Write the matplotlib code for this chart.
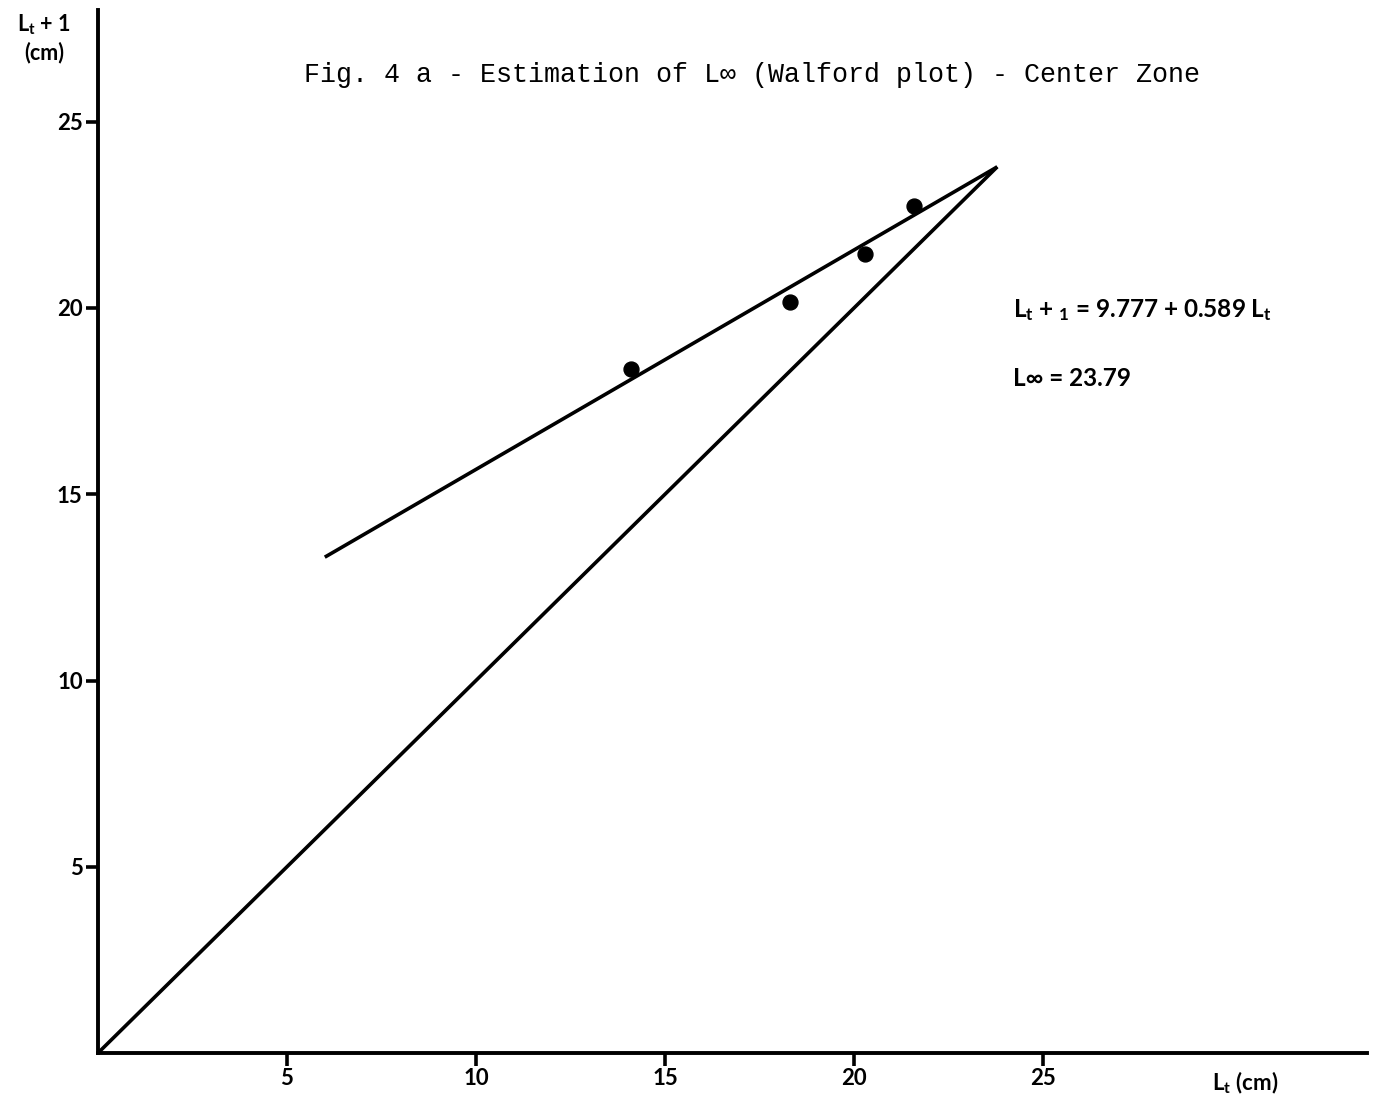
import matplotlib
matplotlib.use("Agg")
import matplotlib.pyplot as plt
import numpy as np

# Data
lt = [14.1, 18.3, 20.3, 21.6]
lt1 = [18.35, 20.15, 21.45, 22.75]
intercept = 9.777
slope = 0.589
linf = 23.79
fit_start = 6.0
xticks = [5, 10, 15, 20, 25]
yticks = [5, 10, 15, 20, 25]

plt.rcParams['mathtext.default'] = 'regular'
sans = ['Lato', 'DejaVu Sans']

fig = plt.figure(figsize=(13.79, 11.01), dpi=100)
ax = fig.add_axes([98/1379, 48/1101, (1367-98)/1379, (1053-10)/1101])
ax.set_xlim(0, (1367-98)/37.8)
ax.set_ylim(0, (1053-10)/37.25)

for s in ['top', 'right']:
    ax.spines[s].set_visible(False)
for s in ['left', 'bottom']:
    ax.spines[s].set_linewidth(2.8)
    ax.spines[s].set_color('black')

ax.set_xticks(xticks)
ax.set_yticks(yticks)
ax.tick_params(direction='out', length=9, width=2.6, labelsize=16, pad=2)
for lab in ax.get_xticklabels() + ax.get_yticklabels():
    lab.set_family(sans)
    lab.set_fontweight('bold')

# Diagonal (Lt+1 = Lt)
ax.plot([0, linf], [0, linf], color='black', lw=2.6, solid_capstyle='butt')
# Regression line
xf = np.array([fit_start, linf])
ax.plot(xf, intercept + slope * xf, color='black', lw=2.6, solid_capstyle='butt')
# Points
ax.scatter(lt, lt1, s=115, color='black', zorder=3)

# Title
fig.text(752/1379, 1 - 75/1101, "Fig. 4 a - Estimation of L\u221e (Walford plot) - Center Zone",
         family=['Liberation Mono', 'DejaVu Sans Mono'], fontsize=19.2, ha='center', va='center')

# Axis labels
fig.text(44/1379, 1 - 38/1101, "L$_t$ + 1\n(cm)", family=sans, fontweight='bold',
         fontsize=15.5, ha='center', va='center', linespacing=1.25)
fig.text(1245/1379, 1 - 1083/1101, "L$_t$ (cm)", family=sans, fontweight='bold',
         fontsize=16, ha='center', va='center')

# Annotations
fig.text(1013/1379, 1 - 310/1101, "L$_t$ + $_1$ = 9.777 + 0.589 L$_t$", family=sans,
         fontweight='bold', fontsize=17.5, ha='left', va='center')
fig.text(1013/1379, 1 - 378/1101, "L\u221e = 23.79", family=sans,
         fontweight='bold', fontsize=17.5, ha='left', va='center')

fig.savefig("out.png", dpi=100)
